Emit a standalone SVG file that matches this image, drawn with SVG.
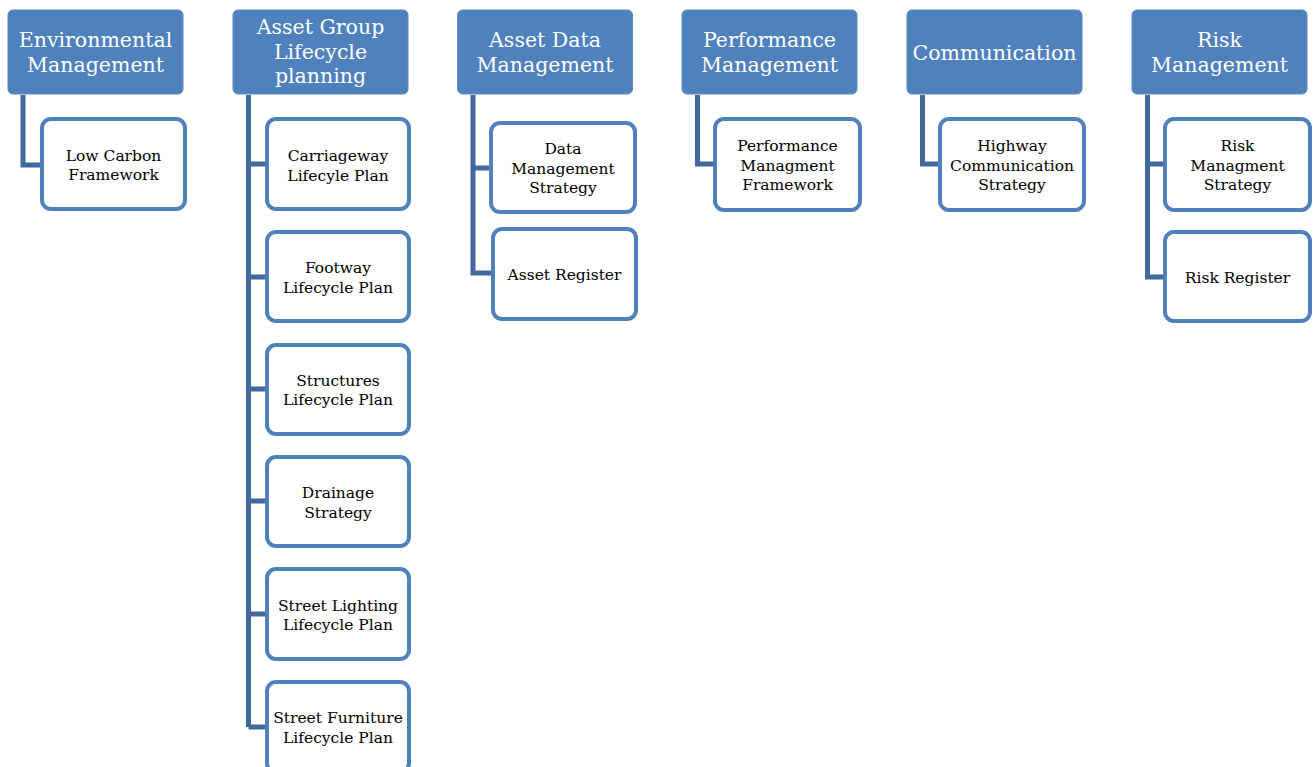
<svg xmlns="http://www.w3.org/2000/svg" width="1316" height="767" viewBox="0 0 1316 767">
<style>
.hdr{fill:#4F81BD;stroke:#5A8AC2;stroke-width:1}
.hdr-t{fill:#FFFFFF;font-family:"DejaVu Serif","Liberation Serif",serif;font-size:20.5px;text-anchor:middle}
.box{fill:#FFFFFF;stroke:#4F81BD;stroke-width:4}
.box-t{fill:#000000;font-family:"DejaVu Serif","Liberation Serif",serif;font-size:15.5px;text-anchor:middle}
.conn{fill:none;stroke:#41699E;stroke-width:5}
</style>
<rect width="1316" height="767" fill="#FFFFFF"/>
<g id="connectors">
<path class="conn" d="M23,95 V165 H42"/>
<path class="conn" d="M248.5,95 V727 M248.5,164 H267 M248.5,277 H267 M248.5,389 H267 M248.5,501 H267 M248.5,614 H267 M248.5,727 H267"/>
<path class="conn" d="M473,95 V273 H493 M473,168 H491"/>
<path class="conn" d="M697.5,95 V164 H715"/>
<path class="conn" d="M922.5,95 V164 H940"/>
<path class="conn" d="M1147.5,95 V277 H1165 M1147.5,164 H1165"/>
</g>
<g id="env-mgmt">
<rect class="hdr" x="8" y="10" width="175" height="84" rx="5"/>
<text class="hdr-t" x="95.5" y="47">Environmental</text>
<text class="hdr-t" x="95.5" y="72">Management</text>
</g>
<g id="low-carbon">
<rect class="box" x="42" y="119" width="143" height="90" rx="9"/>
<text class="box-t" x="113.5" y="160.5">Low Carbon</text>
<text class="box-t" x="113.5" y="180">Framework</text>
</g>
<g id="asset-group">
<rect class="hdr" x="233" y="10" width="175" height="84" rx="5"/>
<text class="hdr-t" x="320.5" y="34">Asset Group</text>
<text class="hdr-t" x="320.5" y="59">Lifecycle</text>
<text class="hdr-t" x="320.5" y="83">planning</text>
</g>
<g id="carriageway">
<rect class="box" x="267" y="119" width="142" height="90" rx="9"/>
<text class="box-t" x="338" y="161">Carriageway</text>
<text class="box-t" x="338" y="180.5">Lifecyle Plan</text>
</g>
<g id="footway">
<rect class="box" x="267" y="232" width="142" height="89" rx="9"/>
<text class="box-t" x="338" y="273">Footway</text>
<text class="box-t" x="338" y="292.5">Lifecycle Plan</text>
</g>
<g id="structures">
<rect class="box" x="267" y="345" width="142" height="89" rx="9"/>
<text class="box-t" x="338" y="385.5">Structures</text>
<text class="box-t" x="338" y="405">Lifecycle Plan</text>
</g>
<g id="drainage">
<rect class="box" x="267" y="457" width="142" height="89" rx="9"/>
<text class="box-t" x="338" y="498">Drainage</text>
<text class="box-t" x="338" y="517.5">Strategy</text>
</g>
<g id="street-lighting">
<rect class="box" x="267" y="569" width="142" height="90" rx="9"/>
<text class="box-t" x="338" y="610.5">Street Lighting</text>
<text class="box-t" x="338" y="630">Lifecycle Plan</text>
</g>
<g id="street-furniture">
<rect class="box" x="267" y="682" width="142" height="90" rx="9"/>
<text class="box-t" x="338" y="723">Street Furniture</text>
<text class="box-t" x="338" y="742.5">Lifecycle Plan</text>
</g>
<g id="asset-data">
<rect class="hdr" x="457.5" y="10" width="175" height="84" rx="5"/>
<text class="hdr-t" x="545" y="47">Asset Data</text>
<text class="hdr-t" x="545" y="72">Management</text>
</g>
<g id="data-mgmt-strategy">
<rect class="box" x="491" y="123" width="144" height="89" rx="9"/>
<text class="box-t" x="563" y="154">Data</text>
<text class="box-t" x="563" y="173.5">Management</text>
<text class="box-t" x="563" y="193">Strategy</text>
</g>
<g id="asset-register">
<rect class="box" x="493" y="229" width="143" height="90" rx="9"/>
<text class="box-t" x="564.5" y="280">Asset Register</text>
</g>
<g id="performance">
<rect class="hdr" x="682" y="10" width="175" height="84" rx="5"/>
<text class="hdr-t" x="769.5" y="47">Performance</text>
<text class="hdr-t" x="769.5" y="72">Management</text>
</g>
<g id="perf-framework">
<rect class="box" x="715" y="119" width="145" height="91" rx="9"/>
<text class="box-t" x="787.5" y="151">Performance</text>
<text class="box-t" x="787.5" y="170.5">Managment</text>
<text class="box-t" x="787.5" y="190">Framework</text>
</g>
<g id="communication">
<rect class="hdr" x="907" y="10" width="175" height="84" rx="5"/>
<text class="hdr-t" x="994.5" y="60">Communication</text>
</g>
<g id="highway-comm">
<rect class="box" x="940" y="119" width="144" height="91" rx="9"/>
<text class="box-t" x="1012" y="151">Highway</text>
<text class="box-t" x="1012" y="170.5">Communication</text>
<text class="box-t" x="1012" y="190">Strategy</text>
</g>
<g id="risk-mgmt">
<rect class="hdr" x="1132" y="10" width="175" height="84" rx="5"/>
<text class="hdr-t" x="1219.5" y="47">Risk</text>
<text class="hdr-t" x="1219.5" y="72">Management</text>
</g>
<g id="risk-strategy">
<rect class="box" x="1165" y="119" width="145" height="91" rx="9"/>
<text class="box-t" x="1237.5" y="151">Risk</text>
<text class="box-t" x="1237.5" y="170.5">Managment</text>
<text class="box-t" x="1237.5" y="190">Strategy</text>
</g>
<g id="risk-register">
<rect class="box" x="1165" y="232" width="145" height="89" rx="9"/>
<text class="box-t" x="1237.5" y="283">Risk Register</text>
</g>
</svg>
